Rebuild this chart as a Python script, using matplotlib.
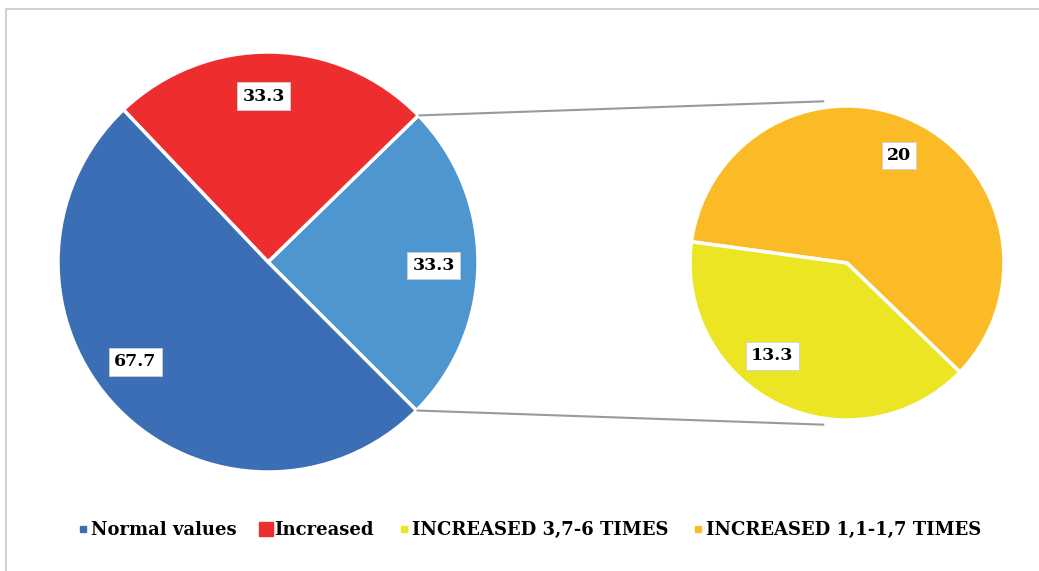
import numpy as np
import matplotlib
matplotlib.use("Agg")
import matplotlib.pyplot as plt
from matplotlib.lines import Line2D
from matplotlib.patches import Rectangle

# Main pie: the "increased" share split out, then red, then normal values
main_labels = ["Increased (split)", "Increased", "Normal values"]
main_values = [33.3, 33.3, 67.7]
main_colors = ["#4E96D0", "#EE2E2E", "#3C6EB6"]

# Secondary pie (breakdown of the split slice)
sub_labels = ["INCREASED 1,1-1,7 TIMES", "INCREASED 3,7-6 TIMES"]
sub_values = [20, 13.3]
sub_colors = ["#FBBB27", "#EBE524"]

legend_labels = ["Normal values", "Increased", "INCREASED 3,7-6 TIMES", "INCREASED 1,1-1,7 TIMES"]
legend_colors = ["#3C6EB6", "#EE2E2E", "#EBE524", "#FBBB27"]
legend_sizes = [5, 10, 5, 5]

W, H = 1039, 571
fig = plt.figure(figsize=(W / 100, H / 100), dpi=100)
ax = fig.add_axes([0, 0, 1, 1])

font = {"family": "DejaVu Serif", "weight": "bold", "size": 12.5}
legfont = {"family": "DejaVu Serif", "weight": "bold", "size": 13}
box = dict(boxstyle="square,pad=0.3", fc="white", ec="#d0d0d0", lw=0.6)


def place_labels(wedges, texts, center, radius, fracs, dist):
    # put each value label at a point inside its wedge
    for w, t, f in zip(wedges, texts, fracs):
        a = np.radians(w.theta1 + f * (w.theta2 - w.theta1))
        cx, cy = w.center
        t.set_position((cx + dist * radius * np.cos(a), cy + dist * radius * np.sin(a)))
        t.set_bbox(box)


main_c = (268, H - 262)
main_r = 210
wedges, texts = ax.pie(main_values, colors=main_colors, startangle=-45, counterclock=True,
                       center=main_c, radius=main_r, labels=[f"{v}" for v in main_values],
                       frame=True,
                       wedgeprops=dict(edgecolor="white", linewidth=2.5),
                       textprops=dict(font, ha="center", va="center"))
place_labels(wedges, texts, main_c, main_r, [0.49, 0.53, 0.46], 0.79)

sub_c = (847, H - 263)
sub_r = 157
sw, stexts = ax.pie(sub_values, colors=sub_colors, startangle=-44, counterclock=True,
                    center=sub_c, radius=sub_r, explode=[0.025, 0.025],
                    labels=[f"{v:g}" for v in sub_values], frame=True,
                    wedgeprops=dict(edgecolor="white", linewidth=2.5),
                    textprops=dict(font, ha="center", va="center"))
place_labels(sw, stexts, sub_c, sub_r, [0.5, 0.41], 0.76)

ax.set_xlim(0, W)
ax.set_ylim(0, H)
ax.set_aspect("auto")
ax.axis("off")

# outer frame (only top and left visible)
ax.add_patch(Rectangle((6, -50), W + 50, H - 9 + 50, fill=False, ec="#c8c8c8", lw=1.2))

# connector lines from split wedge to secondary pie
w = wedges[0]
for ang, sang in [(w.theta2, 98), (w.theta1, 262)]:
    x0 = main_c[0] + main_r * np.cos(np.radians(ang))
    y0 = main_c[1] + main_r * np.sin(np.radians(ang))
    x1 = sub_c[0] + sub_r * 1.04 * np.cos(np.radians(sang))
    y1 = sub_c[1] + sub_r * 1.04 * np.sin(np.radians(sang))
    ax.plot([x0, x1], [y0, y1], color="#9a9a9a", lw=1.5, solid_capstyle="butt")

handles = [Line2D([], [], marker="s", ls="", color=c, markersize=s)
           for c, s in zip(legend_colors, legend_sizes)]
fig.legend(handles, legend_labels, loc="center", bbox_to_anchor=(530 / W, 1 - 530 / H),
           ncol=4, frameon=False, handlelength=0.5, handletextpad=0.2, columnspacing=1.4,
           prop=legfont)

fig.savefig("out.png", dpi=100)
